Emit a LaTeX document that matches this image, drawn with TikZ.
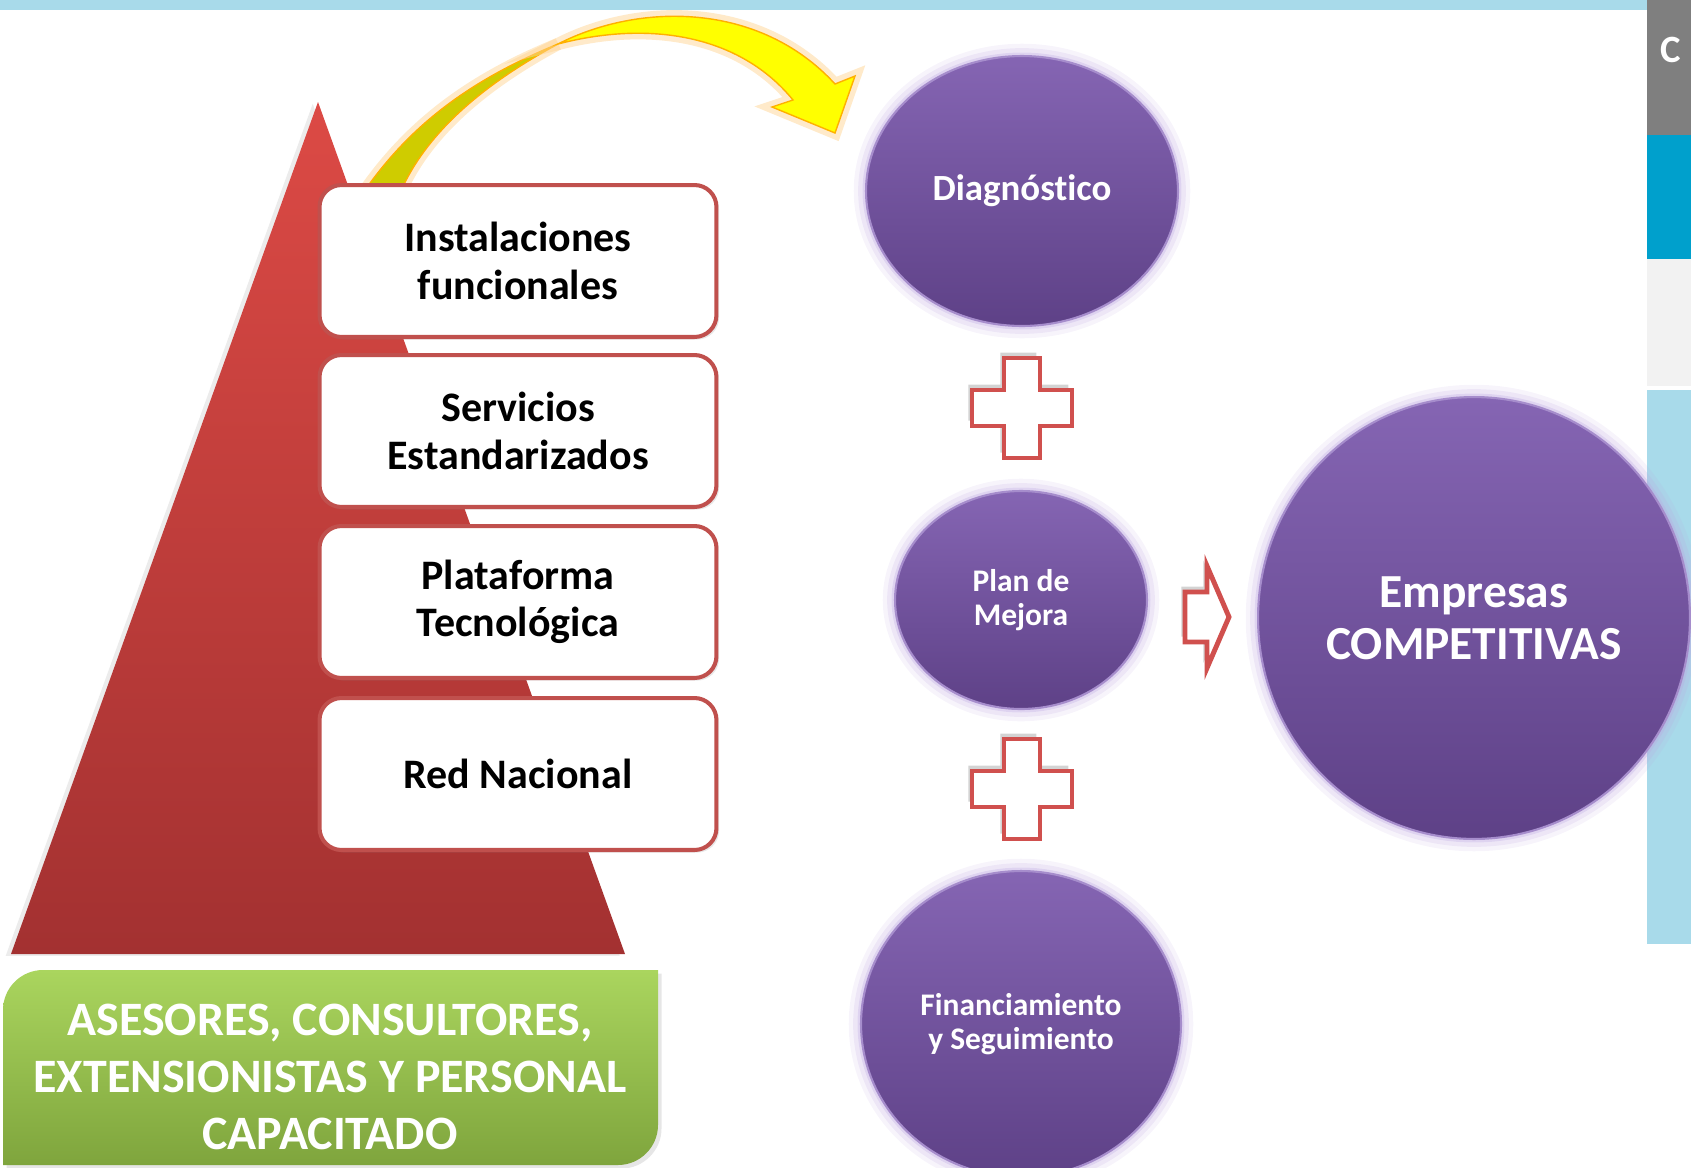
\documentclass[tikz,border=0pt]{standalone}
\usepackage[rgb]{xcolor}
\usepackage{fontspec}
\setmainfont{Carlito}[Ligatures=NoCommon]
\usepackage{tikz}
\usetikzlibrary{shapes.geometric, shadows}

\definecolor{barcyan}{HTML}{A8DAEA}
\definecolor{stripgray}{HTML}{7F7F7F}
\definecolor{stripblue}{HTML}{00A0CC}
\definecolor{stripwhite}{HTML}{F2F2F2}
\definecolor{tritop}{HTML}{DC4A45}
\definecolor{tribot}{HTML}{A33131}
\definecolor{boxred}{HTML}{C0504D}
\definecolor{greentop}{HTML}{AAD55E}
\definecolor{greenbot}{HTML}{7FA53D}
\definecolor{bubbletop}{HTML}{8565B3}
\definecolor{bubblebot}{HTML}{5E4187}
\definecolor{bubbleedge}{HTML}{A68DCC}
\definecolor{bubbleglow}{HTML}{BDA6E0}
\definecolor{arrowyellow}{HTML}{FFFF00}
\definecolor{arrowolive}{HTML}{CFCC00}
\definecolor{arroworange}{HTML}{FFB000}
\definecolor{arrowglow}{HTML}{FFD595}
\definecolor{signred}{HTML}{D0504E}

\tikzset{
  box/.style={draw=boxred, line width=2.3pt, fill=white, rounded corners=12.5pt,
    minimum width=7.94cm, minimum height=3.04cm, inner sep=0pt, align=center,
    font=\bfseries\fontsize{23.9pt}{27pt}\selectfont,
    drop shadow={opacity=.18, shadow xshift=1.5pt, shadow yshift=-1.5pt}},
  bubble/.style={ellipse, draw=bubbleedge, line width=1.2pt,
    top color=bubbletop, bottom color=bubblebot, text=white, inner sep=0pt, align=center,
    preaction={draw=bubbleglow, line width=14pt, opacity=.12},
    preaction={draw=bubbleglow, line width=9pt, opacity=.18},
    preaction={draw=bubbleglow, line width=4pt, opacity=.3}},
  sign/.style={draw=signred, line width=2.8pt, fill=white,
    drop shadow={opacity=.35, shadow xshift=-2pt, shadow yshift=3pt}},
}

\begin{document}
\begin{tikzpicture}[x=0.02cm, y=-0.02cm]

\useasboundingbox (0,0) rectangle (1691,1167);


% Top band and right edge
\fill[barcyan] (0,0) rectangle (1647,10);
\fill[stripgray] (1647,0) rectangle (1691,135);
\fill[stripblue] (1647,135) rectangle (1691,259);
\fill[stripwhite] (1647,259) rectangle (1691,386);
\fill[barcyan] (1647,390) rectangle (1691,944);
\path (1660,50) node[anchor=west, inner sep=0pt, text=white, font=\bfseries\fontsize{22pt}{22pt}\selectfont] (cut) {C};


% Pyramid
\shade[top color=tritop, bottom color=tribot,
  drop shadow={opacity=.15, shadow xshift=-3pt, shadow yshift=-1pt}]
(318,102) -- (625,954) -- (11,954) -- cycle;


% Curved arrow to the first step
\filldraw[fill=arrowolive, draw=arroworange, line width=.8pt,
  preaction={draw=arrowglow, line width=7pt, opacity=.5}]
(363,193) .. controls (410,125) and (470,80) .. (558,44)
.. controls (480,86) and (425,135) .. (400,193) -- cycle;

\filldraw[fill=arrowyellow, draw=arroworange, line width=.8pt,
  preaction={draw=arrowglow, line width=7pt, opacity=.5}]
(558,44) .. controls (640,2) and (760,2) .. (835,84)
-- (855,76) -- (835,133) -- (772,107) -- (793,100)
.. controls (740,35) and (650,20) .. (558,44) -- cycle;


% Pillars
\path
(518,261) node[box] (inst) {Instalaciones\\funcionales}
(518,431) node[box] (serv) {Servicios\\Estandarizados}
(518,602) node[box] (plat) {Plataforma\\Tecnológica}
(518,774) node[box] (red) {Red Nacional};


% Base of people
\shade[top color=greentop, bottom color=greenbot,
  drop shadow={opacity=.2, shadow xshift=2pt, shadow yshift=-2pt}]
(3,1165) -- (3,1010) .. controls (3,988) and (21,970) .. (43,970) -- (658,970)
-- (658,1125) .. controls (658,1147) and (640,1165) .. (618,1165) -- cycle;

\path (330,1077) node[text=white, align=center,
  font=\bfseries\fontsize{27.3pt}{32.4pt}\selectfont] (base)
{ASESORES, CONSULTORES,\\EXTENSIONISTAS Y PERSONAL\\CAPACITADO};


% Steps
\path
(1022,191) node[bubble, minimum width=6.24cm, minimum height=5.4cm,
  font=\bfseries\fontsize{21pt}{23pt}\selectfont] (diag) {Diagnóstico}
(1021,600) node[bubble, minimum width=5.04cm, minimum height=4.36cm,
  font=\bfseries\fontsize{17.9pt}{19.6pt}\selectfont] (plan) {Plan de\\Mejora}
(1021,1024) node[bubble, minimum width=6.4cm, minimum height=6.12cm,
  font=\bfseries\fontsize{17.9pt}{19.6pt}\selectfont] (fin) {Financiamiento\\y Seguimiento};

% Result
\path (1474,618) node[bubble, minimum width=8.64cm, minimum height=8.84cm,
  font=\bfseries\fontsize{27pt}{29.6pt}\selectfont] (emp) {Empresas\\COMPETITIVAS};


% Plus signs
\filldraw[sign, shift={(1022,408)}]
(-18,-50) -- (18,-50) -- (18,-18) -- (50,-18) -- (50,18) -- (18,18)
-- (18,50) -- (-18,50) -- (-18,18) -- (-50,18) -- (-50,-18) -- (-18,-18) -- cycle;

\filldraw[sign, shift={(1022,789)}]
(-18,-50) -- (18,-50) -- (18,-18) -- (50,-18) -- (50,18) -- (18,18)
-- (18,50) -- (-18,50) -- (-18,18) -- (-50,18) -- (-50,-18) -- (-18,-18) -- cycle;


% Block arrow
\filldraw[sign]
(1185,592) -- (1207,592) -- (1207,566) -- (1229,617) -- (1207,668)
-- (1207,642) -- (1185,642) -- cycle;


\end{tikzpicture}
\end{document}
